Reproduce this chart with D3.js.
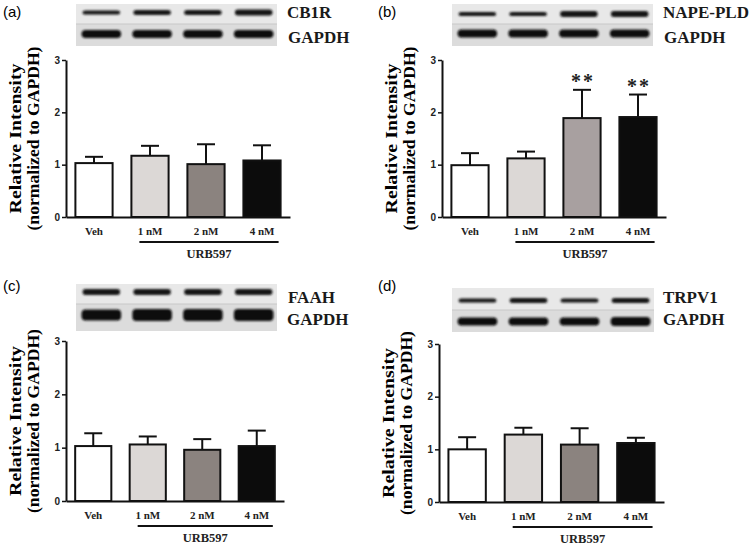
<!DOCTYPE html>
<html>
<head>
<meta charset="utf-8">
<script src="https://cdn.jsdelivr.net/npm/d3@7"></script>
<style>
  body { margin: 0; background: #fff; }
  svg { display: block; }
  .serif { font-family: "Liberation Serif", "Times New Roman", serif; font-weight: bold; }
  .sans { font-family: "Liberation Sans", Arial, sans-serif; }
</style>
</head>
<body>
<svg id="fig" width="752" height="550"></svg>
<script>
// values
const categories = ["Veh", "1 nM", "2 nM", "4 nM"];
const yTicks = [0, 1, 2, 3];

const cb1rMean = [1.03, 1.17, 1.01, 1.08];
const cb1rErr = [0.12, 0.19, 0.38, 0.29];
const napeMean = [0.99, 1.12, 1.89, 1.91];
const napeErr = [0.23, 0.13, 0.54, 0.43];
const faahMean = [1.03, 1.06, 0.96, 1.03];
const faahErr = [0.24, 0.15, 0.2, 0.29];
const trpv1Mean = [1.0, 1.28, 1.09, 1.12];
const trpv1Err = [0.23, 0.13, 0.31, 0.1];

const napeStars = ["", "", "**", "**"];

// blot band thickness (target protein, GAPDH)
const cb1rBand = [4, 5, 5, 6];
const napeBand = [4, 4, 6, 6];
const faahBand = [6, 6, 6, 6];
const trpv1Band = [4, 5, 4, 5];
const gapdhBandAB = [8, 8, 8, 8];
const gapdhBandCD = [11, 12, 12, 12];
const gapdhBandD = [8, 8, 8, 9];

const fillsA = ["#ffffff", "#dcd8d6", "#8b837f", "#0c0c0c"];
const fillsB = ["#ffffff", "#dcd8d6", "#a8a0a0", "#0c0c0c"];

const panels = [
  { tag: "(a)", name: "CB1R", mean: cb1rMean, err: cb1rErr, band: cb1rBand, gband: gapdhBandAB, fills: fillsA, stars: null,
    tagXY: [3, 17], left: 66, right: 290, y0: 217, y3: 60,
    blot: [76, 4, 277, 24, 46], bandY: [12.5, 34], nameXY: [287, 18], gXY: [288, 43] },
  { tag: "(b)", name: "NAPE-PLD", mean: napeMean, err: napeErr, band: napeBand, gband: gapdhBandAB, fills: fillsB, stars: napeStars,
    tagXY: [378, 17], left: 442, right: 666, y0: 217, y3: 60,
    blot: [452, 4, 653, 24, 46], bandY: [14, 33.5], nameXY: [663, 18], gXY: [664, 43] },
  { tag: "(c)", name: "FAAH", mean: faahMean, err: faahErr, band: faahBand, gband: gapdhBandCD, fills: fillsA, stars: null,
    tagXY: [3, 291], left: 66, right: 284, y0: 501, y3: 341,
    blot: [76, 284, 277, 304, 331], bandY: [292, 315], nameXY: [288, 303], gXY: [287, 325] },
  { tag: "(d)", name: "TRPV1", mean: trpv1Mean, err: trpv1Err, band: trpv1Band, gband: gapdhBandD, fills: fillsA, stars: null,
    tagXY: [378, 291], left: 439, right: 664, y0: 502, y3: 344,
    blot: [452, 288, 654, 310, 332], bandY: [300.5, 321.5], nameXY: [663, 303], gXY: [663, 325] }
];

const svg = d3.select("#fig");
const defs = svg.append("defs");
defs.append("filter").attr("id", "blur")
  .attr("x", "-20%").attr("y", "-50%").attr("width", "140%").attr("height", "200%")
  .append("feGaussianBlur").attr("stdDeviation", 0.9);

panels.forEach(drawPanel);

function drawPanel(p) {
  const g = svg.append("g");

  g.append("text").attr("class", "sans")
    .attr("x", p.tagXY[0]).attr("y", p.tagXY[1])
    .attr("font-size", 15).text(p.tag);

  drawBlot(g, p);

  const x = d3.scaleBand().domain(categories).range([p.left, p.right])
    .paddingInner(0.3).paddingOuter(0.15);
  const y = d3.scaleLinear().domain([0, 3]).range([p.y0, p.y3]);
  const bw = x.bandwidth();

  // y axis
  const ya = g.append("g").attr("transform", `translate(${p.left},0)`)
    .call(d3.axisLeft(y).tickValues(yTicks).tickFormat(d3.format("d")).tickSize(4).tickSizeOuter(0).tickPadding(2));
  ya.select(".domain").attr("stroke", "#111").attr("stroke-width", 2);
  ya.selectAll(".tick line").attr("stroke", "#111").attr("stroke-width", 1.5);
  ya.selectAll(".tick text").attr("class", "sans").attr("font-weight", "bold")
    .attr("font-size", 10).attr("fill", "#222");

  // y title
  const cy = (p.y0 + p.y3) / 2;
  g.append("text").attr("class", "serif")
    .attr("transform", `translate(${p.left - 51},${cy}) rotate(-90)`)
    .attr("text-anchor", "middle").attr("dominant-baseline", "central")
    .attr("font-size", 17).attr("textLength", 150).attr("lengthAdjust", "spacingAndGlyphs")
    .text("Relative Intensity");
  g.append("text").attr("class", "serif")
    .attr("transform", `translate(${p.left - 33},${cy}) rotate(-90)`)
    .attr("text-anchor", "middle").attr("dominant-baseline", "central")
    .attr("font-size", 17).attr("textLength", 184).attr("lengthAdjust", "spacingAndGlyphs")
    .text("(normalized to GAPDH)");

  // error bars (upper only)
  const eb = g.append("g").attr("stroke", "#111").attr("stroke-width", 2);
  categories.forEach((c, i) => {
    const cx = x(c) + bw / 2;
    const top = y(p.mean[i] + p.err[i]);
    eb.append("line").attr("x1", cx).attr("x2", cx).attr("y1", y(p.mean[i])).attr("y2", top);
    eb.append("line").attr("x1", cx - 9).attr("x2", cx + 9).attr("y1", top).attr("y2", top);
  });

  // bars
  g.append("g").selectAll("rect").data(categories).join("rect")
    .attr("x", d => x(d) + 1).attr("width", bw - 2)
    .attr("y", (d, i) => y(p.mean[i])).attr("height", (d, i) => p.y0 - y(p.mean[i]))
    .attr("fill", (d, i) => p.fills[i]).attr("stroke", "#111").attr("stroke-width", 2);

  // x axis
  const xa = g.append("g").attr("transform", `translate(0,${p.y0})`)
    .call(d3.axisBottom(x).tickSize(0).tickSizeOuter(0).tickPadding(10));
  xa.select(".domain").attr("stroke", "#111").attr("stroke-width", 2);
  xa.selectAll(".tick text").attr("class", "serif").attr("font-size", 11).attr("fill", "#222");

  // stars
  if (p.stars) {
    g.append("g").selectAll("text").data(categories).join("text")
      .attr("class", "serif").attr("font-weight", "normal")
      .attr("x", d => x(d) + bw / 2 + 1)
      .attr("y", (d, i) => y(p.mean[i] + p.err[i]) - 2)
      .attr("text-anchor", "middle").attr("font-size", 20).attr("letter-spacing", 2)
      .attr("fill", "#222")
      .text((d, i) => p.stars[i]);
  }

  // URB597 bracket
  const lx0 = x(categories[1]) + 9;
  const lx1 = x(categories[3]) + bw - 3;
  g.append("line").attr("x1", lx0).attr("x2", lx1)
    .attr("y1", p.y0 + 25).attr("y2", p.y0 + 25)
    .attr("stroke", "#111").attr("stroke-width", 2);
  g.append("text").attr("class", "serif")
    .attr("x", (lx0 + lx1) / 2).attr("y", p.y0 + 41)
    .attr("text-anchor", "middle").attr("font-size", 12.5).attr("fill", "#222")
    .text("URB597");
}

function drawBlot(g, p) {
  const [bx0, by0, bx1, bsplit, by1] = p.blot;
  const bg = g.append("g");
  bg.append("rect").attr("x", bx0).attr("y", by0).attr("width", bx1 - bx0).attr("height", bsplit - by0)
    .attr("fill", "#e8e8e8");
  bg.append("rect").attr("x", bx0).attr("y", bsplit).attr("width", bx1 - bx0).attr("height", by1 - bsplit)
    .attr("fill", "#dcdcdc");
  bg.append("line").attr("x1", bx0).attr("x2", bx1).attr("y1", bsplit).attr("y2", bsplit)
    .attr("stroke", "#c8c8c8").attr("stroke-width", 1);

  const lanes = d3.scaleBand().domain(categories).range([bx0 + 4, bx1 - 2]).paddingInner(0.26).paddingOuter(0.05);
  const lw = lanes.bandwidth();
  const bands = bg.append("g").attr("filter", "url(#blur)");
  bands.selectAll("rect.t").data(categories).join("rect").attr("class", "t")
    .attr("x", d => lanes(d)).attr("width", lw)
    .attr("y", (d, i) => p.bandY[0] - p.band[i] / 2).attr("height", (d, i) => p.band[i])
    .attr("rx", 3).attr("fill", "#151515");
  bands.selectAll("rect.g").data(categories).join("rect").attr("class", "g")
    .attr("x", d => lanes(d) - 1).attr("width", lw + 2)
    .attr("y", (d, i) => p.bandY[1] - p.gband[i] / 2).attr("height", (d, i) => p.gband[i])
    .attr("rx", 4).attr("fill", "#0e0e0e");

  g.append("text").attr("class", "serif").attr("x", p.nameXY[0]).attr("y", p.nameXY[1])
    .attr("font-size", 17).attr("fill", "#1a1a1a").text(p.name);
  g.append("text").attr("class", "serif").attr("x", p.gXY[0]).attr("y", p.gXY[1])
    .attr("font-size", 17).attr("fill", "#1a1a1a").text("GAPDH");
}
</script>
</body>
</html>
